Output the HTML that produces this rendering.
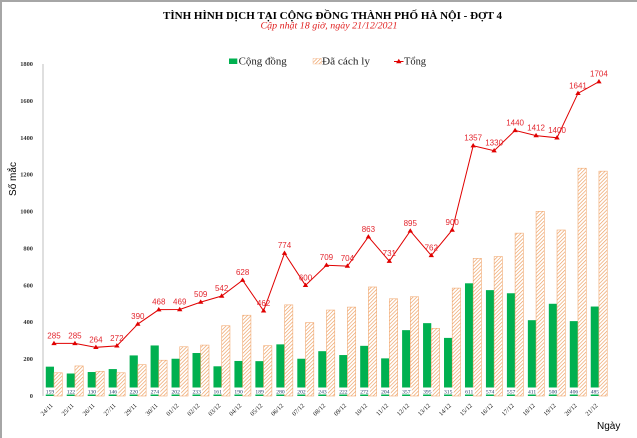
<!DOCTYPE html>
<html><head><meta charset="utf-8"><style>
html,body{margin:0;padding:0;background:#fff;}
svg{display:block;}
</style></head><body>
<svg width="637" height="438" viewBox="0 0 637 438" xmlns="http://www.w3.org/2000/svg">
<defs>
<pattern id="h" patternUnits="userSpaceOnUse" width="2.6" height="2.6" patternTransform="rotate(45)">
<rect width="2.6" height="2.6" fill="#fff"/>
<line x1="0" y1="0" x2="0" y2="2.6" stroke="#ec9d5e" stroke-width="1.3"/>
</pattern>
</defs>
<rect x="0" y="0" width="637" height="438" fill="#fff"/>
<line x1="1" y1="0" x2="1" y2="438" stroke="#a6a6a6" stroke-width="2"/>
<line x1="0" y1="1" x2="637" y2="1" stroke="#a6a6a6" stroke-width="2"/>

<text x="332.5" y="18.8" font-family="Liberation Serif, serif" font-weight="bold" font-size="11" text-anchor="middle" textLength="339" lengthAdjust="spacingAndGlyphs" fill="#000">TÌNH HÌNH DỊCH TẠI CỘNG ĐỒNG THÀNH PHỐ HÀ NỘI - ĐỢT 4</text>
<text x="329" y="28.3" font-family="Liberation Serif, serif" font-style="italic" font-size="9" text-anchor="middle" textLength="137" lengthAdjust="spacingAndGlyphs" fill="#e02020">Cập nhật 18 giờ, ngày 21/12/2021</text>

<!-- legend -->
<rect x="229" y="58.5" width="8.3" height="5.5" fill="#00b050"/>
<text x="238.7" y="64.5" font-family="Liberation Serif, serif" font-size="10" textLength="48" lengthAdjust="spacingAndGlyphs" fill="#222">Cộng đồng</text>
<rect x="313" y="58.5" width="8.5" height="5.5" fill="url(#h)" stroke="#f4b183" stroke-width="0.4"/>
<text x="322" y="64.5" font-family="Liberation Serif, serif" font-size="10" textLength="48" lengthAdjust="spacingAndGlyphs" fill="#222">Đã cách ly</text>
<line x1="394" y1="61.5" x2="403.5" y2="61.5" stroke="#e00000" stroke-width="1"/>
<polygon points="398.8,58.8 401.5,63.2 396.1,63.2" fill="#e00000"/>
<text x="404" y="64.5" font-family="Liberation Serif, serif" font-size="10" textLength="22" lengthAdjust="spacingAndGlyphs" fill="#222">Tổng</text>

<!-- y axis -->
<line x1="43" y1="64" x2="43" y2="396" stroke="#bfbfbf" stroke-width="1"/>
<g font-family="Liberation Serif, serif" font-weight="bold" font-size="6.4" text-anchor="end" fill="#333">
<text x="33" y="66">1800</text>
<text x="33" y="102.9">1600</text>
<text x="33" y="139.8">1400</text>
<text x="33" y="176.7">1200</text>
<text x="33" y="213.6">1000</text>
<text x="33" y="250.4">800</text>
<text x="33" y="287.3">600</text>
<text x="33" y="324.2">400</text>
<text x="33" y="361.1">200</text>
<text x="33" y="398">0</text>
</g>
<text transform="translate(16,179) rotate(-90)" font-family="Liberation Sans, sans-serif" font-size="10" text-anchor="middle" fill="#000">Số mắc</text>
<text x="597" y="429" font-family="Liberation Sans, sans-serif" font-size="10" fill="#000">Ngày</text>

<!-- green bars -->
<g fill="#00b050">
<rect x="45.78" y="366.67" width="8.2" height="29.33"/>
<rect x="66.74" y="373.50" width="8.2" height="22.50"/>
<rect x="87.70" y="372.02" width="8.2" height="23.98"/>
<rect x="108.66" y="369.07" width="8.2" height="26.93"/>
<rect x="129.62" y="355.42" width="8.2" height="40.58"/>
<rect x="150.58" y="345.46" width="8.2" height="50.54"/>
<rect x="171.54" y="358.74" width="8.2" height="37.26"/>
<rect x="192.50" y="353.02" width="8.2" height="42.98"/>
<rect x="213.46" y="366.30" width="8.2" height="29.70"/>
<rect x="234.42" y="360.96" width="8.2" height="35.04"/>
<rect x="255.38" y="361.14" width="8.2" height="34.86"/>
<rect x="276.34" y="344.36" width="8.2" height="51.64"/>
<rect x="297.30" y="358.74" width="8.2" height="37.26"/>
<rect x="318.26" y="351.18" width="8.2" height="44.82"/>
<rect x="339.22" y="355.05" width="8.2" height="40.95"/>
<rect x="360.18" y="345.83" width="8.2" height="50.17"/>
<rect x="381.14" y="358.37" width="8.2" height="37.63"/>
<rect x="402.10" y="330.15" width="8.2" height="65.85"/>
<rect x="423.06" y="323.14" width="8.2" height="72.86"/>
<rect x="444.02" y="337.90" width="8.2" height="58.10"/>
<rect x="464.98" y="283.30" width="8.2" height="112.70"/>
<rect x="485.94" y="290.13" width="8.2" height="105.87"/>
<rect x="506.90" y="293.26" width="8.2" height="102.74"/>
<rect x="527.86" y="320.19" width="8.2" height="75.81"/>
<rect x="548.82" y="303.78" width="8.2" height="92.22"/>
<rect x="569.78" y="321.12" width="8.2" height="74.88"/>
<rect x="590.74" y="306.54" width="8.2" height="89.46"/>
</g>

<!-- hatched bars -->
<g fill="url(#h)" stroke="#f2ab74" stroke-width="0.6">
<rect x="53.98" y="372.76" width="8.3" height="23.24"/>
<rect x="74.94" y="365.94" width="8.3" height="30.06"/>
<rect x="95.90" y="371.28" width="8.3" height="24.72"/>
<rect x="116.86" y="372.76" width="8.3" height="23.24"/>
<rect x="137.82" y="364.64" width="8.3" height="31.36"/>
<rect x="158.78" y="360.22" width="8.3" height="35.78"/>
<rect x="179.74" y="346.75" width="8.3" height="49.25"/>
<rect x="200.70" y="345.09" width="8.3" height="50.91"/>
<rect x="221.66" y="325.73" width="8.3" height="70.27"/>
<rect x="242.62" y="315.21" width="8.3" height="80.79"/>
<rect x="263.58" y="345.65" width="8.3" height="50.35"/>
<rect x="284.54" y="304.88" width="8.3" height="91.12"/>
<rect x="305.50" y="322.59" width="8.3" height="73.41"/>
<rect x="326.46" y="310.05" width="8.3" height="85.95"/>
<rect x="347.42" y="307.10" width="8.3" height="88.90"/>
<rect x="368.38" y="286.99" width="8.3" height="109.01"/>
<rect x="389.34" y="298.80" width="8.3" height="97.20"/>
<rect x="410.30" y="296.77" width="8.3" height="99.23"/>
<rect x="431.26" y="328.31" width="8.3" height="67.69"/>
<rect x="452.22" y="288.10" width="8.3" height="107.90"/>
<rect x="473.18" y="258.40" width="8.3" height="137.60"/>
<rect x="494.14" y="256.56" width="8.3" height="139.44"/>
<rect x="515.10" y="233.14" width="8.3" height="162.86"/>
<rect x="536.06" y="211.37" width="8.3" height="184.63"/>
<rect x="557.02" y="230.00" width="8.3" height="166.00"/>
<rect x="577.98" y="168.21" width="8.3" height="227.79"/>
<rect x="598.94" y="171.16" width="8.3" height="224.84"/>
</g>

<!-- green labels -->
<g fill="#fff">
<rect x="44.5" y="387.5" width="11" height="7"/>
<rect x="65.4" y="387.5" width="11" height="7"/>
<rect x="86.4" y="387.5" width="11" height="7"/>
<rect x="107.4" y="387.5" width="11" height="7"/>
<rect x="128.3" y="387.5" width="11" height="7"/>
<rect x="149.3" y="387.5" width="11" height="7"/>
<rect x="170.2" y="387.5" width="11" height="7"/>
<rect x="191.2" y="387.5" width="11" height="7"/>
<rect x="212.2" y="387.5" width="11" height="7"/>
<rect x="233.1" y="387.5" width="11" height="7"/>
<rect x="254.1" y="387.5" width="11" height="7"/>
<rect x="275.0" y="387.5" width="11" height="7"/>
<rect x="296.0" y="387.5" width="11" height="7"/>
<rect x="317.0" y="387.5" width="11" height="7"/>
<rect x="337.9" y="387.5" width="11" height="7"/>
<rect x="358.9" y="387.5" width="11" height="7"/>
<rect x="379.8" y="387.5" width="11" height="7"/>
<rect x="400.8" y="387.5" width="11" height="7"/>
<rect x="421.8" y="387.5" width="11" height="7"/>
<rect x="442.7" y="387.5" width="11" height="7"/>
<rect x="463.7" y="387.5" width="11" height="7"/>
<rect x="484.6" y="387.5" width="11" height="7"/>
<rect x="505.6" y="387.5" width="11" height="7"/>
<rect x="526.6" y="387.5" width="11" height="7"/>
<rect x="547.5" y="387.5" width="11" height="7"/>
<rect x="568.5" y="387.5" width="11" height="7"/>
<rect x="589.4" y="387.5" width="11" height="7"/>
</g>
<g font-family="Liberation Serif, serif" font-size="5.6" text-anchor="middle" fill="#1f3864">
<text x="50.0" y="393.3">159</text>
<text x="70.9" y="393.3">122</text>
<text x="91.9" y="393.3">130</text>
<text x="112.9" y="393.3">146</text>
<text x="133.8" y="393.3">220</text>
<text x="154.8" y="393.3">274</text>
<text x="175.7" y="393.3">202</text>
<text x="196.7" y="393.3">233</text>
<text x="217.7" y="393.3">161</text>
<text x="238.6" y="393.3">190</text>
<text x="259.6" y="393.3">189</text>
<text x="280.5" y="393.3">280</text>
<text x="301.5" y="393.3">202</text>
<text x="322.5" y="393.3">243</text>
<text x="343.4" y="393.3">222</text>
<text x="364.4" y="393.3">272</text>
<text x="385.3" y="393.3">204</text>
<text x="406.3" y="393.3">357</text>
<text x="427.3" y="393.3">395</text>
<text x="448.2" y="393.3">315</text>
<text x="469.2" y="393.3">611</text>
<text x="490.1" y="393.3">574</text>
<text x="511.1" y="393.3">557</text>
<text x="532.1" y="393.3">411</text>
<text x="553.0" y="393.3">500</text>
<text x="574.0" y="393.3">406</text>
<text x="594.9" y="393.3">485</text>
</g>

<!-- total line -->
<polyline fill="none" stroke="#e00000" stroke-width="1" points="53.98,343.43 74.94,343.43 95.90,347.31 116.86,345.83 137.82,324.07 158.78,309.68 179.74,309.50 200.70,302.12 221.66,296.03 242.62,280.17 263.58,310.79 284.54,253.24 305.50,285.33 326.46,265.23 347.42,266.15 368.38,236.82 389.34,261.17 410.30,230.92 431.26,255.45 452.22,230.00 473.18,145.71 494.14,150.69 515.10,130.40 536.06,135.57 557.02,137.78 577.98,93.33 598.94,81.71"/>
<g fill="#e00000">
<polygon points="53.98,340.7 56.7,345.1 51.3,345.1"/>
<polygon points="74.94,340.7 77.6,345.1 72.2,345.1"/>
<polygon points="95.90,344.6 98.6,349.0 93.2,349.0"/>
<polygon points="116.86,343.1 119.6,347.5 114.2,347.5"/>
<polygon points="137.82,321.4 140.5,325.8 135.1,325.8"/>
<polygon points="158.78,307.0 161.5,311.4 156.1,311.4"/>
<polygon points="179.74,306.8 182.4,311.2 177.0,311.2"/>
<polygon points="200.70,299.4 203.4,303.8 198.0,303.8"/>
<polygon points="221.66,293.3 224.4,297.7 219.0,297.7"/>
<polygon points="242.62,277.5 245.3,281.9 239.9,281.9"/>
<polygon points="263.58,308.1 266.3,312.5 260.9,312.5"/>
<polygon points="284.54,250.5 287.2,254.9 281.8,254.9"/>
<polygon points="305.50,282.6 308.2,287.0 302.8,287.0"/>
<polygon points="326.46,262.5 329.2,266.9 323.8,266.9"/>
<polygon points="347.42,263.4 350.1,267.8 344.7,267.8"/>
<polygon points="368.38,234.1 371.1,238.5 365.7,238.5"/>
<polygon points="389.34,258.5 392.0,262.9 386.6,262.9"/>
<polygon points="410.30,228.2 413.0,232.6 407.6,232.6"/>
<polygon points="431.26,252.7 434.0,257.1 428.6,257.1"/>
<polygon points="452.22,227.3 454.9,231.7 449.5,231.7"/>
<polygon points="473.18,143.0 475.9,147.4 470.5,147.4"/>
<polygon points="494.14,148.0 496.8,152.4 491.4,152.4"/>
<polygon points="515.10,127.7 517.8,132.1 512.4,132.1"/>
<polygon points="536.06,132.9 538.8,137.3 533.4,137.3"/>
<polygon points="557.02,135.1 559.7,139.5 554.3,139.5"/>
<polygon points="577.98,90.6 580.7,95.0 575.3,95.0"/>
<polygon points="598.94,79.0 601.6,83.4 596.2,83.4"/>
</g>
<g font-family="Liberation Sans, sans-serif" font-size="8" text-anchor="middle" fill="#e3262e">
<text x="53.98" y="338.4">285</text>
<text x="74.94" y="338.4">285</text>
<text x="95.90" y="342.3">264</text>
<text x="116.86" y="340.8">272</text>
<text x="137.82" y="319.1">390</text>
<text x="158.78" y="304.7">468</text>
<text x="179.74" y="304.5">469</text>
<text x="200.70" y="297.1">509</text>
<text x="221.66" y="291.0">542</text>
<text x="242.62" y="275.2">628</text>
<text x="263.58" y="305.8">462</text>
<text x="284.54" y="248.2">774</text>
<text x="305.50" y="280.3">600</text>
<text x="326.46" y="260.2">709</text>
<text x="347.42" y="261.2">704</text>
<text x="368.38" y="231.8">863</text>
<text x="389.34" y="256.2">731</text>
<text x="410.30" y="225.9">895</text>
<text x="431.26" y="250.5">762</text>
<text x="452.22" y="225.0">900</text>
<text x="473.18" y="140.7">1357</text>
<text x="494.14" y="145.7">1330</text>
<text x="515.10" y="125.4">1440</text>
<text x="536.06" y="130.6">1412</text>
<text x="557.02" y="132.8">1400</text>
<text x="577.98" y="88.3">1641</text>
<text x="598.94" y="76.7">1704</text>
</g>

<!-- x labels -->
<g font-family="Liberation Serif, serif" font-size="6.4" text-anchor="end" fill="#222">
<text transform="translate(53.3,406) rotate(-45)">24/11</text>
<text transform="translate(74.2,406) rotate(-45)">25/11</text>
<text transform="translate(95.2,406) rotate(-45)">26/11</text>
<text transform="translate(116.2,406) rotate(-45)">27/11</text>
<text transform="translate(137.1,406) rotate(-45)">29/11</text>
<text transform="translate(158.1,406) rotate(-45)">30/11</text>
<text transform="translate(179.0,406) rotate(-45)">01/12</text>
<text transform="translate(200.0,406) rotate(-45)">02/12</text>
<text transform="translate(221.0,406) rotate(-45)">03/12</text>
<text transform="translate(241.9,406) rotate(-45)">04/12</text>
<text transform="translate(262.9,406) rotate(-45)">05/12</text>
<text transform="translate(283.8,406) rotate(-45)">06/12</text>
<text transform="translate(304.8,406) rotate(-45)">07/12</text>
<text transform="translate(325.8,406) rotate(-45)">08/12</text>
<text transform="translate(346.7,406) rotate(-45)">09/12</text>
<text transform="translate(367.7,406) rotate(-45)">10/12</text>
<text transform="translate(388.6,406) rotate(-45)">11/12</text>
<text transform="translate(409.6,406) rotate(-45)">12/12</text>
<text transform="translate(430.6,406) rotate(-45)">13/12</text>
<text transform="translate(451.5,406) rotate(-45)">14/12</text>
<text transform="translate(472.5,406) rotate(-45)">15/12</text>
<text transform="translate(493.4,406) rotate(-45)">16/12</text>
<text transform="translate(514.4,406) rotate(-45)">17/12</text>
<text transform="translate(535.4,406) rotate(-45)">18/12</text>
<text transform="translate(556.3,406) rotate(-45)">19/12</text>
<text transform="translate(577.3,406) rotate(-45)">20/12</text>
<text transform="translate(598.2,406) rotate(-45)">21/12</text>
</g>
</svg>
</body></html>
